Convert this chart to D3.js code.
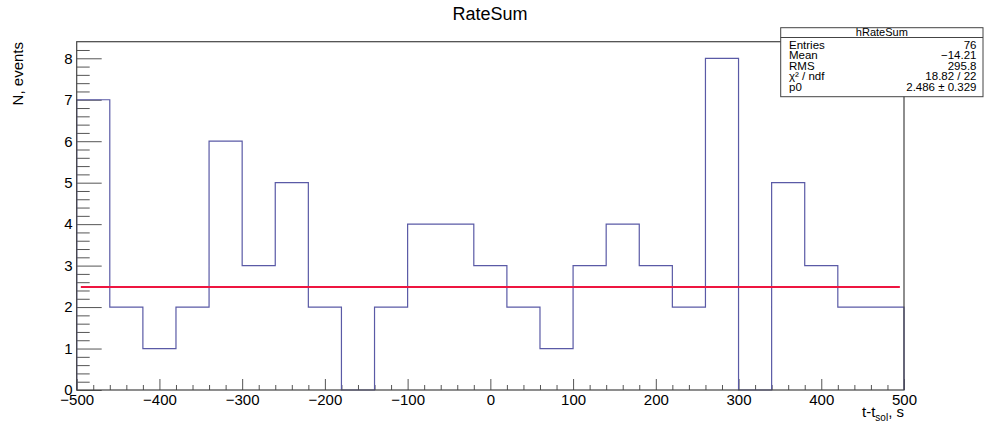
<!DOCTYPE html>
<html>
<head>
<meta charset="utf-8">
<script src="https://cdn.jsdelivr.net/npm/d3@7"></script>
<style>
  body { margin: 0; background: #fff; }
  text { font-family: "Liberation Sans", Arial, Helvetica, sans-serif; }
</style>
</head>
<body>
<div id="vis"></div>
<script>
// histogram: 25 bins of width 40 from -500 to 500
const xMin = -500, xMax = 500, binWidth = 40;
const counts = [7, 2, 1, 2, 6, 3, 5, 2, 0, 2, 4, 4, 3, 2, 1, 3, 4, 3, 2, 8, 0, 5, 3, 2, 2];
const yMax = 8.4;

// constant fit p0
const fitValue = 2.486;
const fitRange = [-495, 495];

const xMajorTicks = [-500, -400, -300, -200, -100, 0, 100, 200, 300, 400, 500];
const yMajorTicks = [0, 1, 2, 3, 4, 5, 6, 7, 8];

const statsLabels = ["Entries", "Mean", "RMS", "χ² / ndf", "p0"];
const statsValues = ["76", "\u221214.21", "295.8", "18.82 / 22", "2.486 \u00b1 0.329"];

let width = 987, height = 426;
let margin = { top: 41.7, right: 83, bottom: 36, left: 76.7 };
let plotW = width - margin.left - margin.right,
  plotH = height - margin.top - margin.bottom;

const svg = d3.select("#vis")
  .append("svg")
  .attr("width", width)
  .attr("height", height);

const g = svg.append("g")
  .attr("transform", `translate(${margin.left},${margin.top})`);

let x = d3.scaleLinear().domain([xMin, xMax]).range([0, plotW]);
let y = d3.scaleLinear().domain([0, yMax]).range([plotH, 0]);

// ----- MINOR TICKS ----- //
let xMinor = d3.range(xMin, xMax + 1, 20).filter((v) => v % 100 !== 0);
let yMinor = d3.range(0, 42).map((i) => i * 0.2).filter((v) => Math.abs(v - Math.round(v)) > 0.01);

g.append("g")
  .attr("transform", `translate(0,${plotH})`)
  .call(d3.axisBottom(x).tickValues(xMinor).tickSize(-5).tickFormat(""))
  .call((a) => a.select(".domain").remove());

g.append("g")
  .call(d3.axisLeft(y).tickValues(yMinor).tickSize(-13).tickFormat(""))
  .call((a) => a.select(".domain").remove());

// ----- MAJOR TICKS + LABELS ----- //
let xAxisGroup = g.append("g")
  .attr("transform", `translate(0,${plotH})`)
  .call(d3.axisBottom(x).tickValues(xMajorTicks).tickSize(-11).tickPadding(4)
    .tickFormat((d) => (d < 0 ? "\u2212" + Math.abs(d) : d)));
xAxisGroup.select(".domain").remove();
xAxisGroup.selectAll("text").attr("font-size", 15).attr("fill", "#000");

let yAxisGroup = g.append("g")
  .call(d3.axisLeft(y).tickValues(yMajorTicks).tickSize(-25).tickPadding(6));
yAxisGroup.select(".domain").remove();
yAxisGroup.selectAll("text").attr("font-size", 15).attr("fill", "#000").attr("x", -4);

g.selectAll(".tick line").attr("stroke", "#555");

// ----- HISTOGRAM ----- //
let pts = [[xMin, 0]];
counts.forEach((c, i) => {
  pts.push([xMin + i * binWidth, c]);
  pts.push([xMin + (i + 1) * binWidth, c]);
});
pts.push([xMax, 0]);

let line = d3.line().x((d) => x(d[0])).y((d) => y(d[1]));

g.append("path")
  .attr("d", line(pts))
  .attr("fill", "none")
  .attr("stroke", "#5a5aa6")
  .attr("stroke-width", 1.2);

// ----- FIT ----- //
g.append("line")
  .attr("x1", x(fitRange[0]))
  .attr("x2", x(fitRange[1]))
  .attr("y1", y(fitValue))
  .attr("y2", y(fitValue))
  .attr("stroke", "#ee1540")
  .attr("stroke-width", 2);

// ----- FRAME ----- //
g.append("rect")
  .attr("width", plotW)
  .attr("height", plotH)
  .attr("fill", "none")
  .attr("stroke", "#444")
  .attr("stroke-width", 1.2);

// ----- TITLES ----- //
svg.append("text")
  .attr("x", 490)
  .attr("y", 20)
  .attr("text-anchor", "middle")
  .attr("font-size", 18)
  .text("RateSum");

svg.append("text")
  .attr("transform", "translate(23,42) rotate(-90)")
  .attr("text-anchor", "end")
  .attr("font-size", 15)
  .text("N, events");

let xl = svg.append("text")
  .attr("x", margin.left + plotW)
  .attr("y", 417)
  .attr("text-anchor", "end")
  .attr("font-size", 15);
xl.append("tspan").text("t-t");
xl.append("tspan").attr("font-size", 10).attr("dy", 4).text("sol");
xl.append("tspan").attr("dy", -4).text(", s");

// ----- STATS BOX ----- //
let bx = 780.7, by = 27.7, bw = 202.3, bh = 69;
let stats = svg.append("g");
stats.append("rect")
  .attr("x", bx).attr("y", by).attr("width", bw).attr("height", bh)
  .attr("fill", "#fff").attr("stroke", "#444").attr("stroke-width", 1);
stats.append("line")
  .attr("x1", bx).attr("x2", bx + bw).attr("y1", 37.5).attr("y2", 37.5)
  .attr("stroke", "#444");
stats.append("text")
  .attr("x", bx + bw / 2).attr("y", 36)
  .attr("text-anchor", "middle").attr("font-size", 11)
  .text("hRateSum");

stats.selectAll(".slabel")
  .data(statsLabels)
  .join("text")
  .attr("class", "slabel")
  .attr("x", 789)
  .attr("y", (d, i) => 48.5 + i * 10.6)
  .attr("font-size", 11.5)
  .text((d) => d);

stats.selectAll(".svalue")
  .data(statsValues)
  .join("text")
  .attr("class", "svalue")
  .attr("x", 976.5)
  .attr("y", (d, i) => 48.5 + i * 10.6)
  .attr("text-anchor", "end")
  .attr("font-size", 11.5)
  .text((d) => d);
</script>
</body>
</html>
